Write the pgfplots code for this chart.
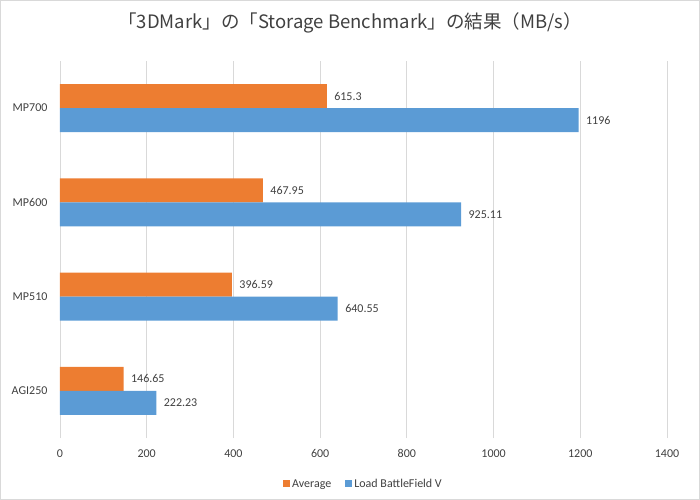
\documentclass[border=0pt]{standalone}
\usepackage{fontspec}
\setmainfont{Carlito}
\newfontfamily\cjk{Noto Sans CJK JP}
\usepackage{pgfplots}
\pgfplotsset{compat=1.18}
\definecolor{orng}{HTML}{ED7D31}
\definecolor{blu}{HTML}{5B9BD5}
\definecolor{grd}{HTML}{D9D9D9}
\definecolor{txt}{HTML}{404040}
\begin{document}
\begin{tikzpicture}
\draw[grd, line width=0.75pt] (0.4pt,0.4pt) rectangle (699.6pt,499.6pt);
\node[font=\cjk\fontsize{18.5}{20}\selectfont, text=txt] at (350pt,477pt) {「3DMark」の「Storage Benchmark」の結果（MB/s）};
\begin{axis}[at={(60pt,62pt)}, anchor=south west, scale only axis,
  width=607pt, height=377pt,
  xmin=0, xmax=1400, ymin=-0.5, ymax=3.5,
  xtick={0,200,...,1400}, ytick={0,1,2,3},
  yticklabels={AGI250,MP510,MP600,MP700},
  xmajorgrids, grid style={grd, line width=0.75pt},
  axis lines*=left,
  x axis line style={draw=none},
  y axis line style={grd, line width=0.75pt},
  major tick length=0pt,
  tick label style={text=txt, font=\fontsize{12}{14}\selectfont},
  /pgf/number format/assume math mode=true,
  /pgf/number format/1000 sep={},
  xticklabel style={yshift=-8pt},
  yticklabel style={xshift=-9pt},
  xbar, bar width=24pt,
  nodes near coords={\pgfplotspointmeta},
  point meta=explicit symbolic,
  every node near coord/.append style={text=txt, font=\fontsize{12}{14}\selectfont, anchor=west, xshift=4pt},
  legend style={at={(0.5,-0.122)}, anchor=center, legend columns=2, draw=none,
    font=\fontsize{12}{14}\selectfont, text=txt, fill=none,
    /tikz/every even column/.append style={column sep=12pt}},
  legend image code/.code={\fill[#1] (0pt,-3.5pt) rectangle (7pt,3.5pt);},
]
\addplot[fill=orng, draw=none, bar shift=12pt] table[meta=label] {
x y label
146.65 0 146.65
396.59 1 396.59
467.95 2 467.95
615.3 3 615.3
};
\addplot[fill=blu, draw=none, bar shift=-12pt] table[meta=label] {
x y label
222.23 0 222.23
640.55 1 640.55
925.11 2 925.11
1196 3 1196
};
\legend{Average, Load BattleField V}
\end{axis}
\end{tikzpicture}
\end{document}
